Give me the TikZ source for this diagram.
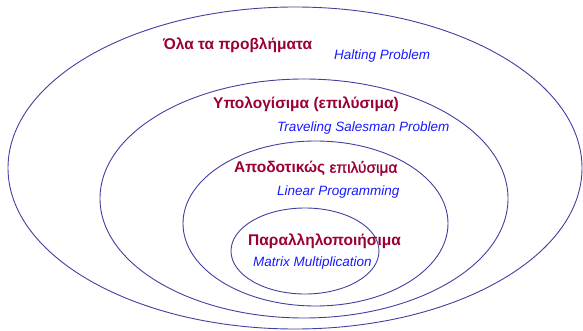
\documentclass[tikz,border=0pt]{standalone}
\usepackage{fontspec}
\setmainfont{Liberation Sans}
\newfontfamily\semib{Liberation Sans}[FakeBold=1.5]
\definecolor{ringblue}{RGB}{64,64,160}
\definecolor{titlered}{RGB}{153,0,51}
\definecolor{exblue}{RGB}{25,25,255}
\tikzset{
  ring/.style={draw=ringblue, line width=0.9pt},
  cls/.style={anchor=base west, inner sep=0pt, text=titlered, font=\fontsize{15.5}{18}\selectfont\bfseries},
  ex/.style={anchor=base west, inner sep=0pt, text=exblue, font=\fontsize{13.5}{16}\selectfont\itshape}
}
\begin{document}
\begin{tikzpicture}[x=1pt,y=-1pt]
\useasboundingbox (0,0) rectangle (583,331);
\draw[ring] (295,168) ellipse [x radius=287, y radius=161];
\draw[ring] (304,198.5) ellipse [x radius=204, y radius=119.5];
\draw[ring] (315.5,223.5) ellipse [x radius=132.5, y radius=82.5];
\draw[ring] (305,251) ellipse [x radius=74, y radius=43];

\node[cls] (all) at (163,49.3) {Όλα τα προβλήματα};
\node[ex] (halt) at (334,60) {Halting Problem};
\node[cls] (comp) at (213,108.3) {Υπολογίσιμα (επιλύσιμα)};
\node[ex] (tsp) at (277,131.7) {Traveling Salesman Problem};
\node[cls] (eff) at (234,172.7) {Αποδοτικώς {\mdseries\semib επιλύσιμα}};
\node[ex] (lp) at (277,195) {Linear Programming};
\node[cls] (par) at (248,245) {Παραλληλοποιήσιμα};
\node[ex] (mm) at (253,266) {Matrix Multiplication};
\end{tikzpicture}
\end{document}
